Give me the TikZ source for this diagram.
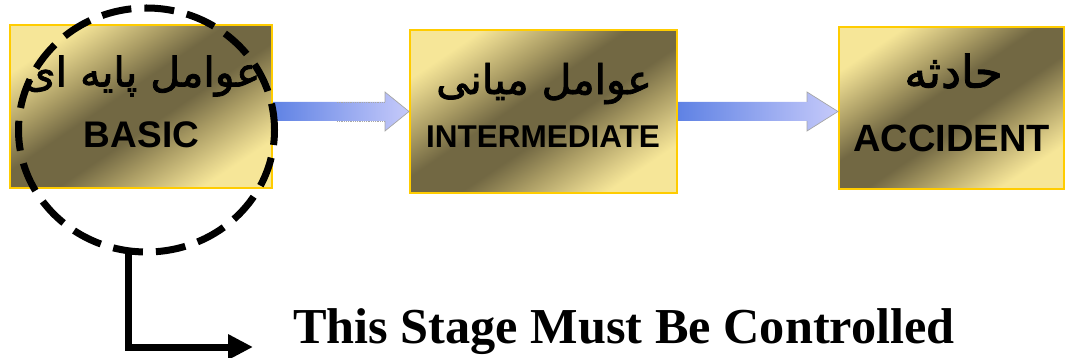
\documentclass[tikz,border=0pt]{standalone}
\usepackage{fontspec}
\setmainfont{Liberation Serif}
\newfontfamily\arabicfont[Script=Arabic, FakeBold=2]{DejaVu Sans}
\newfontfamily\boxfont{Liberation Sans}
\TeXXeTstate=1
\usetikzlibrary{arrows.meta,calc}
\definecolor{goldlight}{RGB}{246,230,152}
\definecolor{goldpale}{RGB}{222,206,136}
\definecolor{goldmid}{RGB}{170,156,100}
\definecolor{golddark}{RGB}{114,104,67}
\definecolor{goldborder}{RGB}{255,204,0}
\definecolor{arrowblue}{RGB}{95,130,228}
\definecolor{arrowlav}{RGB}{198,202,250}
\pgfdeclareverticalshading{goldshade}{100bp}{color(0bp)=(goldlight); color(25bp)=(goldlight); color(29bp)=(goldpale); color(37bp)=(goldmid); color(45bp)=(golddark); color(55bp)=(golddark); color(63bp)=(goldmid); color(71bp)=(goldpale); color(75bp)=(goldlight); color(100bp)=(goldlight)}
\tikzset{
  stagebox/.style={draw=goldborder, line width=2pt, shading=goldshade, shading angle=34, inner sep=0pt},
  artext/.style={font=\arabicfont\fontsize{41}{41}\selectfont, inner sep=0pt},
  entext/.style={font=\boxfont\bfseries, anchor=base, inner sep=0pt},
  blockarrow/.style={left color=arrowblue, right color=arrowlav},
  headline/.style={draw=gray!70, line width=0.7pt},
  thick7/.style={line width=7pt}
}
\begin{document}
\begin{tikzpicture}[x=1pt,y=-1pt]
\useasboundingbox (0,0) rectangle (1065,358);
% boxes
\node[stagebox, minimum width=262pt, minimum height=163pt] (b1) at (141,106.5) {};
\node[stagebox, minimum width=267pt, minimum height=163pt] (b2) at (543.5,111.5) {};
\node[stagebox, minimum width=225pt, minimum height=162pt] (b3) at (951.5,108) {};
% labels
\node[artext] (b1ar) at (142,76) {\beginR عوامل پایه ای\endR};
\node[entext, font=\boxfont\bfseries\fontsize{37}{37}\selectfont] (b1en) at (141.5,148) {BASIC};
\node[artext] (b2ar) at (544,83.5) {\beginR عوامل میانی\endR};
\node[entext, font=\boxfont\bfseries\fontsize{31.5}{31.5}\selectfont] (b2en) at (543,148) {INTERMEDIATE};
\node[artext, font=\arabicfont\fontsize{45}{45}\selectfont] (b3ar) at (953.5,71) {\beginR حادثه\endR};
\node[entext, font=\boxfont\bfseries\fontsize{38}{38}\selectfont] (b3en) at (951.5,152) {ACCIDENT};
% block arrows
\path[blockarrow] (b1.east |- 0,102) -- (385,102) -- (385,92) -- (b2.west |- 0,111.5) -- (385,131) -- (385,121) -- (b1.east |- 0,121) -- cycle;
\draw[headline] (385,102) -- (385,92) -- (b2.west |- 0,111.5) -- (385,131) -- (385,121);
\draw[gray!70, line width=0.8pt, densely dotted] (337,102) -- (385,102) (337,121) -- (385,121);
\path[blockarrow] (b2.east |- 0,102) -- (807,102) -- (807,92) -- (b3.west |- 0,111.5) -- (807,131) -- (807,121) -- (b2.east |- 0,121) -- cycle;
\draw[headline] (807,102) -- (807,92) -- (b3.west |- 0,111.5) -- (807,131) -- (807,121);
% dashed circle
\draw[thick7, dash pattern=on 30pt off 13pt, dash phase=15pt] (146.5,130) ellipse [x radius=128, y radius=122];
% elbow connector
\coordinate (cbot) at (128,251);
\node[anchor=base west, font=\bfseries\fontsize{50.3}{50.3}\selectfont, inner sep=0pt] (ctl) at (293,343) {This Stage Must Be Controlled};
\coordinate (ctip) at (253,347);
\draw[thick7, line join=miter, -{Triangle[length=25pt,width=24pt]}] (cbot) |- (ctip);
\end{tikzpicture}
\end{document}
